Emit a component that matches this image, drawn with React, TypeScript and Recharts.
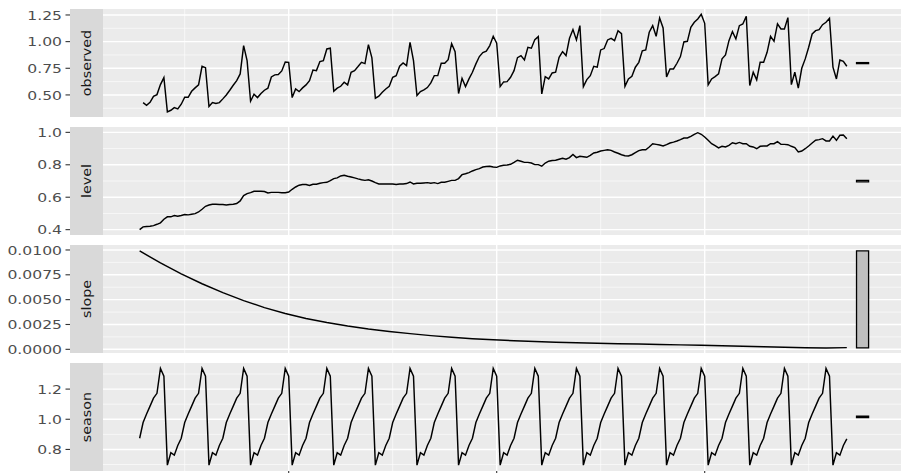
import { LineChart, Line, XAxis, YAxis, CartesianGrid, ReferenceArea } from "recharts";

const FONT = '"DejaVu Sans", "Liberation Sans", Arial, sans-serif';

// h02-style monthly series, Jul 1991 .. Jun 2008
const obsStart = 1991.5;
// ETS states start one month earlier (initial state)
const stateStart = 1991 + 5 / 12;

const observed = [
  0.428, 0.403, 0.431, 0.487, 0.503, 0.597, 0.662, 0.341, 0.356, 0.381, 0.369, 0.413,
  0.478, 0.478, 0.534, 0.566, 0.594, 0.769, 0.756, 0.391, 0.428, 0.419, 0.428, 0.463,
  0.5, 0.544, 0.591, 0.634, 0.697, 0.963, 0.822, 0.441, 0.506, 0.475, 0.513, 0.544,
  0.563, 0.669, 0.688, 0.691, 0.725, 0.809, 0.806, 0.475, 0.556, 0.531, 0.566, 0.594,
  0.634, 0.734, 0.728, 0.813, 0.822, 0.931, 0.938, 0.534, 0.563, 0.581, 0.619, 0.594,
  0.713, 0.728, 0.766, 0.806, 0.794, 0.972, 0.848, 0.469, 0.488, 0.525, 0.556, 0.581,
  0.666, 0.681, 0.769, 0.8, 0.775, 0.994, 0.822, 0.494, 0.531, 0.547, 0.569, 0.613,
  0.681, 0.681, 0.797, 0.797, 0.831, 0.981, 0.906, 0.513, 0.656, 0.578, 0.65, 0.713,
  0.791, 0.86, 0.897, 0.91, 0.963, 1.05, 0.985, 0.578, 0.622, 0.625, 0.666, 0.728,
  0.85, 0.869, 0.828, 0.947, 0.938, 1.019, 1.047, 0.509, 0.672, 0.65, 0.706, 0.713,
  0.853, 0.906, 0.869, 1.031, 1.113, 1.016, 1.15, 0.578, 0.644, 0.681, 0.769, 0.76,
  0.922, 0.935, 1.016, 1.031, 1.009, 1.103, 1.075, 0.581, 0.65, 0.675, 0.76, 0.806,
  0.913, 0.922, 1.088, 1.15, 1.05, 1.222, 1.128, 0.669, 0.744, 0.744, 0.797, 0.86,
  0.997, 1.003, 1.134, 1.181, 1.213, 1.256, 1.172, 0.594, 0.65, 0.672, 0.697, 0.838,
  0.875, 1.009, 1.094, 1.025, 1.15, 1.166, 1.238, 0.588, 0.713, 0.641, 0.806, 0.806,
  0.9, 1.05, 1.003, 1.166, 1.119, 1.119, 1.225, 0.597, 0.713, 0.563, 0.75, 0.838,
  0.947, 1.072, 1.103, 1.113, 1.159, 1.181, 1.219, 0.76, 0.65, 0.828, 0.816, 0.769,
];

const level = [
  0.4, 0.417, 0.419, 0.421, 0.425, 0.433, 0.442, 0.464, 0.479, 0.479, 0.487, 0.483,
  0.487, 0.493, 0.491, 0.495, 0.499, 0.509, 0.526, 0.544, 0.552, 0.557, 0.557, 0.555,
  0.555, 0.552, 0.555, 0.557, 0.561, 0.577, 0.61, 0.622, 0.628, 0.637, 0.637, 0.637,
  0.635, 0.626, 0.63, 0.63, 0.63, 0.628, 0.628, 0.632, 0.649, 0.663, 0.674, 0.678,
  0.678, 0.672, 0.68, 0.68, 0.686, 0.69, 0.692, 0.702, 0.715, 0.719, 0.731, 0.735,
  0.729, 0.725, 0.719, 0.713, 0.708, 0.704, 0.708, 0.7, 0.69, 0.682, 0.682, 0.682,
  0.682, 0.682, 0.678, 0.682, 0.682, 0.684, 0.694, 0.682, 0.686, 0.686, 0.688, 0.69,
  0.686, 0.69, 0.684, 0.692, 0.692, 0.698, 0.704, 0.704, 0.715, 0.739, 0.745, 0.752,
  0.762, 0.77, 0.776, 0.786, 0.789, 0.791, 0.786, 0.784, 0.793, 0.797, 0.799, 0.803,
  0.815, 0.828, 0.822, 0.815, 0.815, 0.811, 0.801, 0.801, 0.791, 0.811, 0.822, 0.826,
  0.828, 0.834, 0.84, 0.834, 0.844, 0.864, 0.844, 0.852, 0.85, 0.846, 0.858, 0.873,
  0.877, 0.885, 0.889, 0.893, 0.889, 0.879, 0.871, 0.862, 0.856, 0.854, 0.862, 0.875,
  0.887, 0.893, 0.893, 0.91, 0.93, 0.926, 0.922, 0.916, 0.924, 0.934, 0.94, 0.947,
  0.955, 0.965, 0.965, 0.975, 0.988, 0.998, 0.988, 0.971, 0.951, 0.93, 0.918, 0.904,
  0.914, 0.91, 0.92, 0.936, 0.93, 0.938, 0.93, 0.93, 0.914, 0.91, 0.899, 0.914,
  0.916, 0.916, 0.93, 0.93, 0.943, 0.926, 0.926, 0.924, 0.914, 0.906, 0.879, 0.885,
  0.899, 0.916, 0.934, 0.951, 0.955, 0.961, 0.947, 0.947, 0.977, 0.951, 0.982, 0.984,
  0.961,
];

// slope read every six months
const slope = [
  0.0099, 0.0087, 0.0076, 0.0066, 0.0057, 0.0049, 0.0042, 0.0036, 0.0031, 0.0027,
  0.00235, 0.00205, 0.0018, 0.00158, 0.00138, 0.00121, 0.00107, 0.00096, 0.00087, 0.00079,
  0.00072, 0.00066, 0.00061, 0.00057, 0.00053, 0.00049, 0.00045, 0.00041, 0.00036, 0.00031,
  0.00026, 0.00021, 0.00016, 0.00014, 0.00017,
];

const season = [
  0.874, 0.978, 1.035, 1.087, 1.14, 1.172, 1.337, 1.285, 0.696, 0.778, 0.762, 0.826,
  0.874, 0.978, 1.035, 1.087, 1.14, 1.172, 1.337, 1.285, 0.696, 0.778, 0.762, 0.826,
  0.874, 0.978, 1.035, 1.087, 1.14, 1.172, 1.337, 1.285, 0.696, 0.778, 0.762, 0.826,
  0.874, 0.978, 1.035, 1.087, 1.14, 1.172, 1.337, 1.285, 0.696, 0.778, 0.762, 0.826,
  0.874, 0.978, 1.035, 1.087, 1.14, 1.172, 1.337, 1.285, 0.696, 0.778, 0.762, 0.826,
  0.874, 0.978, 1.035, 1.087, 1.14, 1.172, 1.337, 1.285, 0.696, 0.778, 0.762, 0.826,
  0.874, 0.978, 1.035, 1.087, 1.14, 1.172, 1.337, 1.285, 0.696, 0.778, 0.762, 0.826,
  0.874, 0.978, 1.035, 1.087, 1.14, 1.172, 1.337, 1.285, 0.696, 0.778, 0.762, 0.826,
  0.874, 0.978, 1.035, 1.087, 1.14, 1.172, 1.337, 1.285, 0.696, 0.778, 0.762, 0.826,
  0.874, 0.978, 1.035, 1.087, 1.14, 1.172, 1.337, 1.285, 0.696, 0.778, 0.762, 0.826,
  0.874, 0.978, 1.035, 1.087, 1.14, 1.172, 1.337, 1.285, 0.696, 0.778, 0.762, 0.826,
  0.874, 0.978, 1.035, 1.087, 1.14, 1.172, 1.337, 1.285, 0.696, 0.778, 0.762, 0.826,
  0.874, 0.978, 1.035, 1.087, 1.14, 1.172, 1.337, 1.285, 0.696, 0.778, 0.762, 0.826,
  0.874, 0.978, 1.035, 1.087, 1.14, 1.172, 1.337, 1.285, 0.696, 0.778, 0.762, 0.826,
  0.874, 0.978, 1.035, 1.087, 1.14, 1.172, 1.337, 1.285, 0.696, 0.778, 0.762, 0.826,
  0.874, 0.978, 1.035, 1.087, 1.14, 1.172, 1.337, 1.285, 0.696, 0.778, 0.762, 0.826,
  0.874, 0.978, 1.035, 1.087, 1.14, 1.172, 1.337, 1.285, 0.696, 0.778, 0.762, 0.826,
  0.87,
];

const xDomain = [1990.536, 2009.719];
const xMajor = [1995, 2000, 2005];
const xMinor = [1992.5, 1997.5, 2002.5, 2007.5];
// range bars on the right (all the same length = range of slope)
const barX = [2008.65, 2008.94];

const toSeries = (vals: number[], start: number, perYear: number) =>
  vals.map((v, i) => ({ t: start + i / perYear, v }));

const barLen = Math.max(...slope) - Math.min(...slope);

const panels = [
  { name: "observed", vals: observed, data: toSeries(observed, obsStart, 12), domain: [0.293, 1.306], major: [0.5, 0.75, 1.0, 1.25], minor: [0.375, 0.625, 0.875, 1.125], digits: 2 },
  { name: "level", vals: level, data: toSeries(level, stateStart, 12), domain: [0.367, 1.033], major: [0.4, 0.6, 0.8, 1.0], minor: [0.5, 0.7, 0.9], digits: 1 },
  { name: "slope", vals: slope, data: toSeries(slope, stateStart, 2), domain: [-0.00037, 0.0105], major: [0, 0.0025, 0.005, 0.0075, 0.01], minor: [0.00125, 0.00375, 0.00625, 0.00875], digits: 4 },
  { name: "season", vals: season, data: toSeries(season, stateStart, 12), domain: [0.657, 1.373], major: [0.8, 1.0, 1.2], minor: [0.7, 0.9, 1.1, 1.3], digits: 1 },
];

const PANEL_H = 108;
const PAD = 10;
const tops = [9, 127, 245, 363];

function YTick(props: any) {
  const { y, payload, digits } = props;
  return (
    <g>
      <line x1={65.5} x2={70} y1={y} y2={y} stroke="#333333" strokeWidth={1.1} />
      <text
        transform={`translate(62, ${y}) scale(1.2, 1)`}
        x={0}
        y={0}
        dy="0.36em"
        textAnchor="end"
        fill="#4d4d4d"
        fontSize={13}
        fontFamily={FONT}
      >
        {Number(payload.value).toFixed(digits)}
      </text>
    </g>
  );
}

function Panel({ p, top, last }: { p: (typeof panels)[number]; top: number; last: boolean }) {
  const mid = (Math.max(...p.vals) + Math.min(...p.vals)) / 2;
  const h = PANEL_H + PAD * 2 + (last ? 20 : 0);
  return (
    <>
      <div style={{ position: "absolute", left: 0, top: top - PAD, width: 901, height: h }}>
        <LineChart width={901} height={h} data={p.data} margin={{ top: PAD, right: 0, bottom: PAD, left: 0 }}>
          <CartesianGrid fill="#ebebeb" stroke="#ffffff" strokeWidth={0.6} horizontalValues={p.minor} verticalValues={xMinor} />
          <CartesianGrid fill="none" stroke="#ffffff" strokeWidth={1.4} horizontalValues={p.major} verticalValues={xMajor} />
          <XAxis
            type="number"
            dataKey="t"
            domain={xDomain}
            allowDataOverflow
            hide={!last}
            ticks={xMajor}
            interval={0}
            tickFormatter={() => ""}
            tickLine={{ stroke: "#333333", strokeWidth: 1.1 }}
            tickSize={4}
            axisLine={false}
            height={20}
          />
          <YAxis
            type="number"
            domain={p.domain}
            allowDataOverflow
            ticks={p.major}
            interval={0}
            width={103}
            axisLine={false}
            tickLine={false}
            tick={(tp: any) => <YTick {...tp} digits={p.digits} />}
          />
          <ReferenceArea
            x1={barX[0]}
            x2={barX[1]}
            y1={mid - barLen / 2}
            y2={mid + barLen / 2}
            fill="#bfbfbf"
            fillOpacity={1}
            stroke="#000000"
            strokeWidth={1.3}
          />
          <Line type="linear" dataKey="v" stroke="#000000" strokeWidth={1.45} dot={false} isAnimationActive={false} />
        </LineChart>
      </div>
      <div
        style={{
          position: "absolute",
          left: 70,
          top,
          width: 33,
          height: PANEL_H,
          background: "#d9d9d9",
        }}
      >
        <span
          style={{
            position: "absolute",
            left: "50%",
            top: "50%",
            transform: "translate(-50%, -50%) rotate(-90deg) scaleX(1.1)",
            whiteSpace: "nowrap",
            fontFamily: FONT,
            fontSize: 13,
            lineHeight: "14px",
            color: "#1a1a1a",
          }}
        >
          {p.name}
        </span>
      </div>
    </>
  );
}

export default function App() {
  return (
    <div style={{ position: "absolute", left: 0, top: 0, width: 901, height: 473, overflow: "hidden", background: "#ffffff" }}>
      {panels.map((p, i) => (
        <Panel key={p.name} p={p} top={tops[i]} last={i === panels.length - 1} />
      ))}
    </div>
  );
}
